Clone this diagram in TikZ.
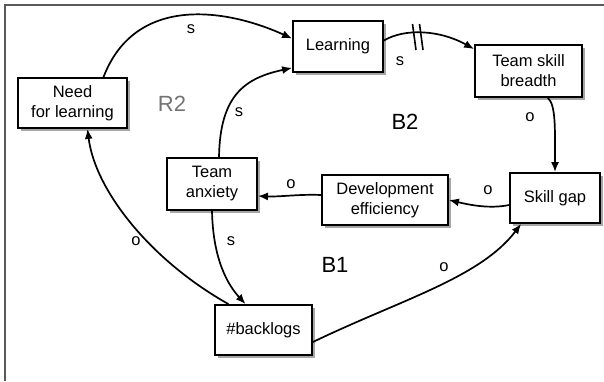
\documentclass[tikz,border=0pt]{standalone}
\usepackage{fontspec}
\setmainfont{Liberation Sans}
\usetikzlibrary{arrows.meta,shadows}
\begin{document}
\begin{tikzpicture}[x=1pt,y=-1pt,
  box/.style={draw=black, line width=1.8pt, fill=white, align=center, inner sep=2pt,
    font=\fontsize{16.5}{20}\selectfont,
    drop shadow={shadow xshift=2.5pt, shadow yshift=-3pt, opacity=0.35, fill=black}},
  link/.style={line width=1.7pt, -{Latex[length=10pt,width=8pt]}},
  pol/.style={font=\fontsize{16.5}{20}\selectfont},
  loopname/.style={font=\fontsize{22}{24}\selectfont}]
\useasboundingbox (0,0) rectangle (604,381);
\draw[line width=2pt, black!65] (4.5,381) -- (4.5,4.5) -- (604,4.5);

\node[box, minimum width=109pt, minimum height=50pt] (need) at (72.5,103) {Need\\for learning};
\node[box, minimum width=90pt, minimum height=51pt] (learn) at (338,46.5) {Learning};
\node[box, minimum width=107pt, minimum height=52pt] (breadth) at (528.5,71) {Team skill\\breadth};
\node[box, minimum width=90pt, minimum height=50pt] (gap) at (555,198) {Skill gap};
\node[box, minimum width=126pt, minimum height=50pt] (dev) at (385,200) {Development\\efficiency};
\node[box, minimum width=90pt, minimum height=52pt] (anx) at (212,184) {Team\\anxiety};
\node[box, minimum width=97pt, minimum height=50pt] (back) at (263.5,330) {\#backlogs};

% connectors
\draw[link] ([xshift=31pt]need.north) .. controls (135,-5) and (225,8) .. ([yshift=8pt]learn.west);
\draw[link] ([xshift=7pt]anx.north) .. controls (220,95) and (245,78) .. ([yshift=5pt]learn.south west);
\draw[link] ([yshift=6pt]learn.east) .. controls (405,28) and (440,30) .. ([yshift=-5pt]breadth.north west);
\draw[link] ([xshift=-35pt]breadth.south east) .. controls (556,105) and (555,130) .. (gap.north);
\draw[link] ([yshift=-7pt]gap.west) .. controls (490,209) and (470,205) .. (dev.east);
\draw[link] ([yshift=5pt]dev.west) .. controls (300,194) and (280,197) .. ([yshift=-12pt]anx.east);
\draw[link] (anx.south) .. controls (213,260) and (228,285) .. ([xshift=-18pt]back.north);
\draw[link] ([xshift=-35pt]back.north) .. controls (150,260) and (95,190) .. ([xshift=15pt]need.south);
\draw[link] ([yshift=-12pt]back.east) .. controls (400,300) and (480,278) .. ([xshift=12pt]gap.south west);

% delay mark
\draw[line width=1.6pt] (412.5,24) -- (416,50);
\draw[line width=1.6pt] (419.5,24) -- (423,50);

% polarity labels
\node[pol] (s1) at (191,29) {s};
\node[pol] (s2) at (239,112) {s};
\node[pol] (s3) at (400,61) {s};
\node[pol] (s4) at (231,241) {s};
\node[pol] (o1) at (530,117) {o};
\node[pol] (o2) at (488,190) {o};
\node[pol] (o3) at (291,184) {o};
\node[pol] (o4) at (136,241) {o};
\node[pol] (o5) at (444,267) {o};

% loop names
\node[loopname, text=black!55] (r2) at (172,104) {R2};
\node[loopname] (b2) at (405,122) {B2};
\node[loopname] (b1) at (335,265) {B1};
\end{tikzpicture}
\end{document}
